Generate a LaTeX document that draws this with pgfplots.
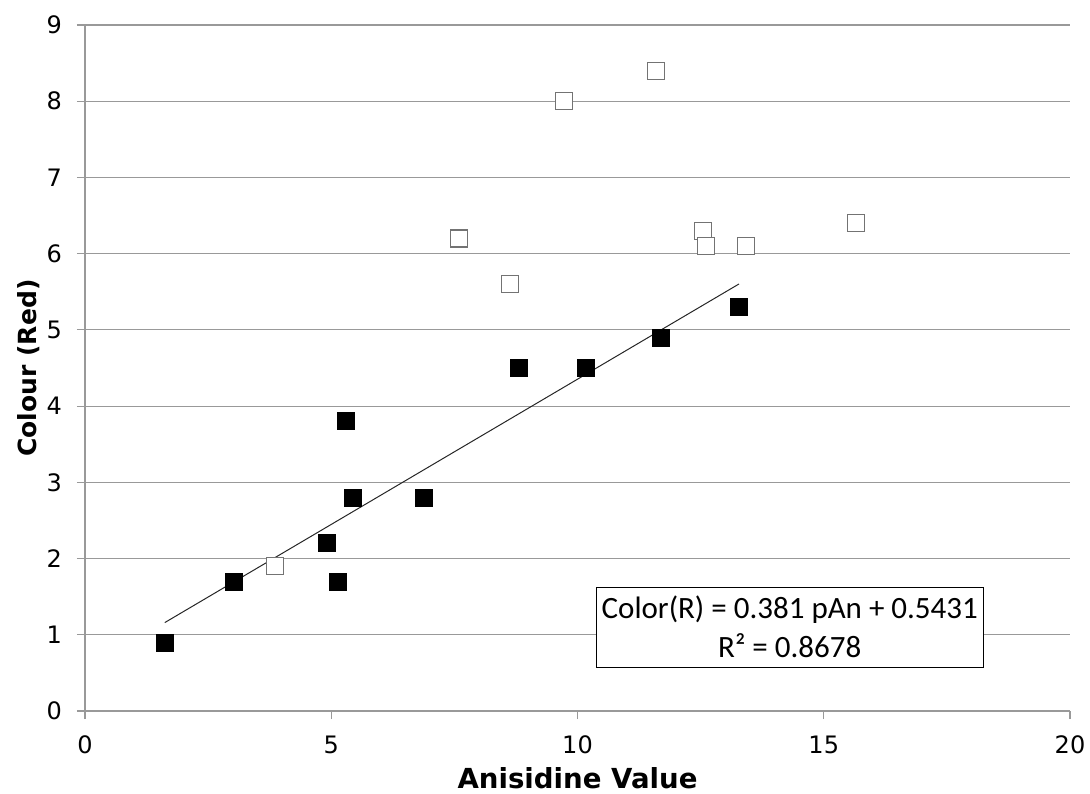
\documentclass[border=0pt]{standalone}
\usepackage{fontspec}
\setmainfont{DejaVu Sans}
\newfontfamily\boxfont{Carlito}
\usepackage{pgfplots}
\pgfplotsset{compat=1.18}
\begin{document}
\begin{tikzpicture}
\begin{axis}[
  at={(0,0)}, anchor=south west,
  scale only axis, width=492.5pt, height=343pt,
  xmin=0, xmax=20, ymin=0, ymax=9,
  xtick={0,5,10,15,20}, ytick={0,1,...,9},
  axis x line*=bottom, axis y line*=left,
  axis line style={draw=gray!80, line width=0.6pt, -},
  ymajorgrids, major grid style={draw=gray!80, line width=0.6pt},
  tick style={draw=gray!80, line width=0.6pt},
  tick align=outside, major tick length=4pt,
  /pgf/number format/assume math mode=true,
  tick label style={font=\fontsize{12}{14}\selectfont},
  xticklabel style={yshift=-5pt},
  yticklabel style={xshift=-4pt},
  xlabel={\textbf{Anisidine Value}},
  ylabel={\textbf{Colour (Red)}},
  xlabel style={font=\fontsize{13.8}{16}\selectfont, at={(rel axis cs:0.5,0)}, anchor=center, yshift=-33.5pt},
  ylabel style={font=\fontsize{12.5}{15}\selectfont, at={(axis description cs:-0.0569,0.5)}, anchor=center},
  clip=false,
]
\addplot[black!85, line width=0.5pt] coordinates {(1.62,1.160) (13.28,5.603)};
\addplot[only marks, mark=square*, mark size=4.25pt, mark options={draw=black, fill=black}] coordinates {
(1.62,0.9) (3.03,1.7) (4.91,2.2) (5.14,1.7) (5.30,3.8) (5.44,2.8) (6.88,2.8) (8.81,4.5) (10.17,4.5) (11.70,4.9) (13.28,5.3)};
\addplot[only marks, mark=square*, mark size=4.25pt, mark options={draw=gray!90!black, fill=white, line width=0.6pt}] coordinates {
(3.86,1.9) (7.59,6.2) (8.63,5.6) (9.73,8.0) (11.59,8.4) (12.55,6.3) (12.61,6.1) (13.42,6.1) (15.65,6.4)};
\node[draw=black, line width=0.6pt, fill=white, align=center, minimum width=193.5pt, minimum height=40pt, inner sep=1pt,
  font=\boxfont\fontsize{15.5}{19.5}\selectfont] at (axis cs:14.31,1.10)
  {Color(R) = 0.381 pAn + 0.5431\\R² = 0.8678};
\end{axis}
\pgfresetboundingbox
\path (-42.5pt,-41pt) rectangle (502.5pt,355.5pt);
\end{tikzpicture}
\end{document}
